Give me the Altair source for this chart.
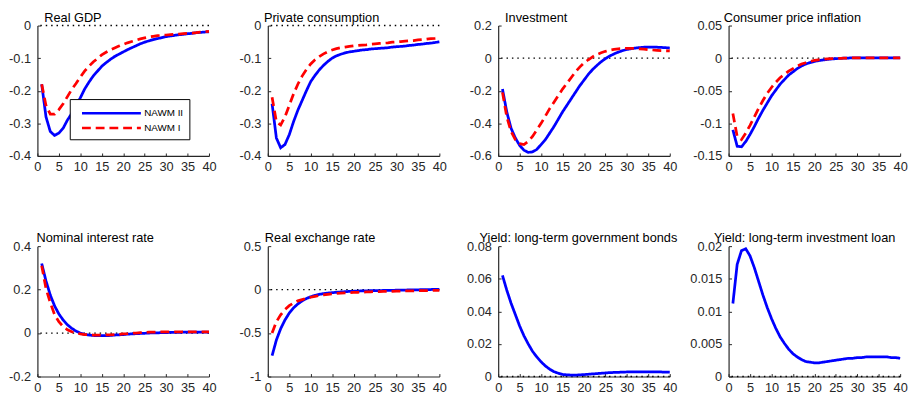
import altair as alt
import pandas as pd

QUARTERS = list(range(1, 41))
SERIES = ["NAWM II", "NAWM I"]
COLORS = ["#0000ff", "#ff0000"]
X_TICKS = [0, 5, 10, 15, 20, 25, 30, 35, 40]

GDP_II = [-0.18, -0.28, -0.325, -0.337, -0.33, -0.315, -0.29, -0.27, -0.245, -0.222,
          -0.195, -0.174, -0.155, -0.14, -0.125, -0.114, -0.104, -0.095, -0.088, -0.081,
          -0.074, -0.068, -0.062, -0.056, -0.051, -0.047, -0.043, -0.040, -0.037, -0.034,
          -0.032, -0.030, -0.028, -0.027, -0.025, -0.024, -0.022, -0.021, -0.020, -0.019]
GDP_I = [-0.18, -0.245, -0.272, -0.272, -0.258, -0.24, -0.218, -0.196, -0.178, -0.158,
         -0.14, -0.125, -0.112, -0.101, -0.09, -0.082, -0.075, -0.069, -0.063, -0.058,
         -0.053, -0.049, -0.045, -0.041, -0.038, -0.035, -0.033, -0.031, -0.030, -0.029,
         -0.028, -0.027, -0.026, -0.025, -0.024, -0.023, -0.022, -0.020, -0.019, -0.018]

CONS_II = [-0.24, -0.345, -0.375, -0.365, -0.335, -0.295, -0.26, -0.23, -0.20, -0.172,
           -0.153, -0.136, -0.122, -0.110, -0.100, -0.093, -0.088, -0.084, -0.081, -0.079,
           -0.077, -0.075, -0.074, -0.072, -0.071, -0.070, -0.069, -0.068, -0.066, -0.065,
           -0.064, -0.063, -0.061, -0.060, -0.058, -0.057, -0.055, -0.054, -0.052, -0.050]
CONS_I = [-0.22, -0.295, -0.305, -0.28, -0.245, -0.21, -0.18, -0.155, -0.135, -0.118,
          -0.105, -0.095, -0.087, -0.080, -0.075, -0.071, -0.068, -0.066, -0.064, -0.062,
          -0.061, -0.060, -0.059, -0.057, -0.056, -0.055, -0.054, -0.053, -0.051, -0.050,
          -0.049, -0.048, -0.047, -0.046, -0.044, -0.043, -0.042, -0.040, -0.039, -0.037]

INV_II = [-0.19, -0.33, -0.43, -0.49, -0.535, -0.565, -0.578, -0.575, -0.56, -0.53,
          -0.50, -0.46, -0.42, -0.375, -0.33, -0.29, -0.25, -0.21, -0.17, -0.135,
          -0.10, -0.07, -0.045, -0.022, -0.003, 0.013, 0.026, 0.037, 0.046, 0.053,
          0.058, 0.062, 0.065, 0.067, 0.068, 0.068, 0.067, 0.066, 0.064, 0.062]
INV_I = [-0.21, -0.36, -0.45, -0.50, -0.525, -0.53, -0.51, -0.48, -0.44, -0.40,
         -0.355, -0.31, -0.27, -0.23, -0.19, -0.155, -0.12, -0.085, -0.055, -0.03,
         -0.01, 0.008, 0.022, 0.033, 0.042, 0.049, 0.054, 0.057, 0.059, 0.06,
         0.06, 0.059, 0.057, 0.055, 0.052, 0.05, 0.048, 0.046, 0.045, 0.044]

CPI_II = [-0.11, -0.135, -0.136, -0.128, -0.117, -0.105, -0.092, -0.080, -0.069, -0.058,
          -0.049, -0.040, -0.033, -0.026, -0.021, -0.016, -0.012, -0.009, -0.0068, -0.005,
          -0.0038, -0.0028, -0.002, -0.0013, -0.0008, -0.0003, 0.0, 0.0002, 0.0004, 0.0005,
          0.0006, 0.0006, 0.0006, 0.0006, 0.0006, 0.0006, 0.0006, 0.0006, 0.0006, 0.0006]
CPI_I = [-0.085, -0.12, -0.125, -0.115, -0.103, -0.09, -0.077, -0.065, -0.054, -0.045,
         -0.037, -0.030, -0.025, -0.020, -0.016, -0.012, -0.009, -0.007, -0.005, -0.0035,
         -0.0025, -0.0018, -0.0012, -0.0008, -0.0005, -0.0002, 0.0, 0.0002, 0.0004, 0.0005,
         0.0005, 0.0005, 0.0005, 0.0005, 0.0005, 0.0005, 0.0005, 0.0005, 0.0005, 0.0005]

RATE_II = [0.32, 0.24, 0.175, 0.125, 0.088, 0.06, 0.038, 0.022, 0.009, 0.0,
           -0.006, -0.009, -0.011, -0.012, -0.012, -0.012, -0.011, -0.009, -0.008, -0.007,
           -0.005, -0.004, -0.003, -0.002, -0.001, 0.0, 0.001, 0.001, 0.002, 0.002,
           0.003, 0.003, 0.003, 0.004, 0.004, 0.004, 0.004, 0.004, 0.004, 0.004]
RATE_I = [0.31, 0.205, 0.14, 0.085, 0.052, 0.03, 0.015, 0.006, 0.0, -0.004,
          -0.007, -0.008, -0.009, -0.009, -0.009, -0.008, -0.008, -0.007, -0.006, -0.004,
          -0.003, -0.001, 0.0, 0.002, 0.003, 0.004, 0.004, 0.005, 0.005, 0.005,
          0.005, 0.005, 0.005, 0.005, 0.005, 0.005, 0.005, 0.005, 0.005, 0.005]

RER_II = [-0.76, -0.58, -0.45, -0.35, -0.27, -0.21, -0.165, -0.13, -0.103, -0.082,
          -0.067, -0.055, -0.046, -0.040, -0.035, -0.031, -0.027, -0.024, -0.021, -0.019,
          -0.017, -0.015, -0.014, -0.013, -0.012, -0.011, -0.010, -0.009, -0.008, -0.007,
          -0.006, -0.005, -0.004, -0.003, -0.002, -0.001, 0.0, 0.001, 0.002, 0.003]
RER_I = [-0.50, -0.37, -0.29, -0.23, -0.185, -0.155, -0.13, -0.115, -0.10, -0.088,
         -0.078, -0.068, -0.06, -0.054, -0.049, -0.045, -0.041, -0.038, -0.035, -0.033,
         -0.031, -0.029, -0.027, -0.025, -0.023, -0.022, -0.021, -0.020, -0.019, -0.018,
         -0.017, -0.016, -0.015, -0.014, -0.013, -0.012, -0.011, -0.010, -0.009, -0.008]

GOV_II = [0.062, 0.053, 0.045, 0.038, 0.031, 0.025, 0.020, 0.0155, 0.012, 0.009,
          0.0065, 0.0045, 0.003, 0.002, 0.0013, 0.001, 0.0009, 0.0009, 0.001, 0.0012,
          0.0014, 0.0016, 0.0018, 0.002, 0.0022, 0.0024, 0.0025, 0.0026, 0.0027, 0.0028,
          0.0029, 0.0029, 0.0029, 0.0029, 0.0029, 0.0029, 0.0028, 0.0028, 0.0027, 0.0027]

LOAN_II = [0.0112, 0.0172, 0.0193, 0.0196, 0.0185, 0.0167, 0.0146, 0.0125, 0.0106, 0.0089,
           0.0074, 0.0061, 0.0051, 0.0042, 0.0035, 0.0030, 0.0026, 0.0023, 0.0022, 0.0021,
           0.0021, 0.0022, 0.0023, 0.0024, 0.0025, 0.0026, 0.0027, 0.0028, 0.0028, 0.0029,
           0.0029, 0.0030, 0.0030, 0.0030, 0.0030, 0.0030, 0.0030, 0.0029, 0.0029, 0.0028]

TITLES = ["Real GDP", "Private consumption", "Investment", "Consumer price inflation",
          "Nominal interest rate", "Real exchange rate",
          "Yield: long-term government bonds", "Yield: long-term investment loan"]
NAWM2 = [GDP_II, CONS_II, INV_II, CPI_II, RATE_II, RER_II, GOV_II, LOAN_II]
NAWM1 = [GDP_I, CONS_I, INV_I, CPI_I, RATE_I, RER_I, [], []]
Y_DOMAINS = [[-0.4, 0], [-0.4, 0], [-0.6, 0.2], [-0.15, 0.05],
             [-0.2, 0.4], [-1, 0.5], [0, 0.08], [0, 0.02]]
Y_TICKS = [[-0.4, -0.3, -0.2, -0.1, 0], [-0.4, -0.3, -0.2, -0.1, 0],
           [-0.6, -0.4, -0.2, 0, 0.2], [-0.15, -0.1, -0.05, 0, 0.05],
           [-0.2, 0, 0.2, 0.4], [-1, -0.5, 0, 0.5],
           [0, 0.02, 0.04, 0.06, 0.08], [0, 0.005, 0.01, 0.015, 0.02]]
TITLE_DX = [7, -4, 7, -5, -1, -3, -19, -15]

W, H = 175, 133
FONT = "Liberation Sans"
AX = "#262626"


def make_panel(i):
    rows = [{"t": t, "v": v, "series": "NAWM II"} for t, v in zip(QUARTERS, NAWM2[i])]
    rows += [{"t": t, "v": v, "series": "NAWM I"} for t, v in zip(QUARTERS, NAWM1[i])]
    df = pd.DataFrame(rows)
    xs = alt.Scale(domain=[0, 40], nice=False, zero=False)
    ys = alt.Scale(domain=Y_DOMAINS[i], nice=False, zero=False)

    if i == 0:
        legend = alt.Legend(title=None, orient="none", legendX=33, legendY=75,
                            direction="vertical", fillColor="white", strokeColor="black",
                            padding=6, symbolType="M-0.29,0H8.29", symbolSize=196,
                            symbolStrokeWidth=2.5, labelFontSize=10, labelFont=FONT,
                            labelColor="black", labelOffset=53, rowPadding=1)
    else:
        legend = None

    color = alt.Color("series:N", scale=alt.Scale(domain=SERIES, range=COLORS),
                      legend=legend)
    dash = alt.StrokeDash("series:N",
                          scale=alt.Scale(domain=SERIES, range=[[1, 0], [9, 5]]),
                          legend=legend)

    zero = alt.Chart(pd.DataFrame({"z": [0]})).mark_rule(
        color="black", strokeDash=[1.5, 4], strokeWidth=1.4
    ).encode(y=alt.Y("z:Q", scale=ys, axis=None))

    lines = alt.Chart(df).mark_line(strokeWidth=2.8).encode(
        x=alt.X("t:Q", scale=xs,
                axis=alt.Axis(values=X_TICKS, tickSize=0, labelPadding=5, domainColor=AX,
                              domainWidth=1.2, labelColor=AX, labelFontSize=13,
                              labelFont=FONT, grid=False, title=None, labelFlush=False,
                              labelOverlap=False)),
        y=alt.Y("v:Q", scale=ys,
                axis=alt.Axis(values=Y_TICKS[i], tickSize=0, labelPadding=7,
                              domainColor=AX, domainWidth=1.2, labelColor=AX,
                              labelFontSize=13, labelFont=FONT, grid=False, title=None,
                              labelFlush=False, labelOverlap=False,
                              labelExpr="datum.value + ''")),
        color=color,
        strokeDash=dash,
        order="t:Q",
    )

    ticks = alt.Chart(df).mark_line(opacity=0).encode(
        x=alt.X("t:Q", scale=xs,
                axis=alt.Axis(orient="top", offset=-H, values=X_TICKS, labels=False,
                              domain=False, tickSize=3, tickColor=AX, tickWidth=1,
                              grid=False, title=None)),
        y=alt.Y("v:Q", scale=ys,
                axis=alt.Axis(orient="right", offset=-W, values=Y_TICKS[i], labels=False,
                              domain=False, tickSize=3, tickColor=AX, tickWidth=1,
                              grid=False, title=None)),
    )

    return alt.layer(zero, lines, ticks).resolve_axis(
        x="independent", y="independent"
    ).properties(
        width=W, height=H,
        title=alt.TitleParams(TITLES[i], dx=TITLE_DX[i], fontWeight="normal",
                              anchor="start", frame="group", fontSize=13,
                              font=FONT, color="black", offset=-5),
    )


panels = [make_panel(i) for i in range(8)]

chart = alt.concat(
    *panels, columns=4, spacing=alt.RowColnumber(row=92, column=60)
).properties(
    bounds="flush", padding=0, background="white"
).resolve_scale(
    x="independent", y="independent", color="independent", strokeDash="independent"
).configure(
    font=FONT
).configure_view(
    stroke=None
).configure_title(
    fontSize=13, fontWeight="normal", anchor="start", frame="group",
    color="black", font=FONT, offset=-5
)

chart.save("out.html", embed_options={"renderer": "svg", "actions": False})
